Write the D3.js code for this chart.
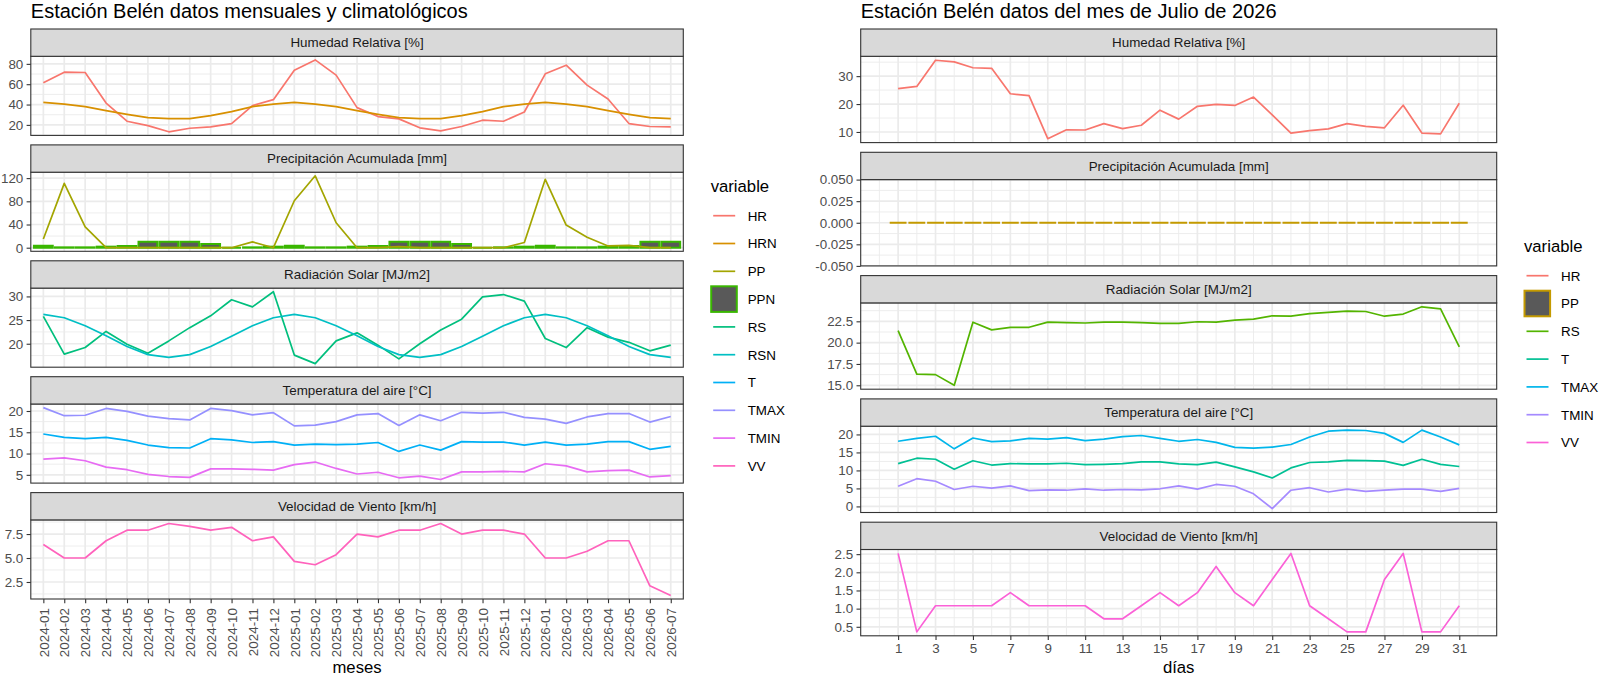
<!DOCTYPE html>
<html>
<head>
<meta charset="utf-8">
<script src="https://cdn.jsdelivr.net/npm/d3@7"></script>
<style>
  body { margin: 0; background: #fff; }
  svg { display: block; font-family: "Liberation Sans", Arial, Helvetica, sans-serif; }
</style>
</head>
<body>
<svg id="chart" width="1600" height="676"></svg>
<script>
// ---- monthly data (left chart) ----
const meses = ['2024-01', '2024-02', '2024-03', '2024-04', '2024-05', '2024-06', '2024-07', '2024-08',
  '2024-09', '2024-10', '2024-11', '2024-12', '2025-01', '2025-02', '2025-03', '2025-04', '2025-05',
  '2025-06', '2025-07', '2025-08', '2025-09', '2025-10', '2025-11', '2025-12', '2026-01', '2026-02',
  '2026-03', '2026-04', '2026-05', '2026-06', '2026-07'];

const hrMes = [61.4, 71.8, 71.5, 41.5, 23.6, 19.3, 13.2, 16.7, 18.0, 21.3, 38.9, 44.8, 73.8, 83.9, 68.9, 37.0,
  28.2, 25.9, 17.1, 14.1, 18.4, 24.6, 23.6, 32.7, 70.2, 78.7, 59.1, 45.4, 21.3, 18.4, 18.0];
const hrnMes = [42.2, 40.5, 38.0, 34.0, 30.4, 27.2, 26.2, 26.2, 29.1, 33.0, 38.0, 40.5, 42.2, 40.5, 38.0, 34.0,
  30.4, 27.2, 26.2, 26.2, 29.1, 33.0, 38.0, 40.5, 42.2, 40.5, 38.0, 34.0, 30.4, 27.2, 26.2];
const ppMes = [15, 111, 36, 0, 0, 0, 0, 0, 0, 0, 10, 0, 81, 124, 43, 0, 0, 2, 0, 0, 0, 0, 0, 9, 118, 39, 18,
  3, 4, 0, 0];
const ppnMes = [3.5, 0.6, 0.6, 1.8, 2.9, 10.3, 10.3, 10.3, 6.3, 0, 0.6, 1.8, 3.5, 0.6, 0.6, 1.8, 2.9, 10.3,
  10.3, 10.3, 6.3, 0, 0.6, 1.8, 3.5, 0.6, 0.6, 1.8, 2.9, 10.3, 10.3];
const rsMes = [25.8, 17.8, 19.2, 22.6, 19.9, 18.0, 20.6, 23.4, 25.9, 29.3, 27.8, 31.0, 17.6, 15.8, 20.6, 22.3,
  19.7, 16.8, 20.0, 22.9, 25.2, 29.9, 30.4, 29.0, 21.1, 19.2, 23.4, 21.4, 20.3, 18.5, 19.7];
const rsnMes = [26.2, 25.5, 23.8, 21.7, 19.4, 17.7, 17.1, 17.7, 19.4, 21.6, 23.8, 25.5, 26.2, 25.5, 23.8, 21.7,
  19.4, 17.7, 17.1, 17.7, 19.4, 21.6, 23.8, 25.5, 26.2, 25.5, 23.8, 21.7, 19.4, 17.7, 17.1];
const tMes = [14.6, 13.8, 13.5, 13.8, 13.1, 12.0, 11.4, 11.3, 13.5, 13.2, 12.6, 12.8, 12.0, 12.2, 12.1, 12.2,
  12.6, 10.5, 12.0, 10.8, 12.8, 12.7, 12.7, 12.0, 12.7, 12.0, 12.2, 12.8, 12.8, 11.0, 11.7];
const tmaxMes = [20.8, 18.9, 19.0, 20.6, 19.9, 18.8, 18.2, 17.9, 20.6, 20.1, 19.1, 19.6, 16.5, 16.7, 17.5, 19.1,
  19.4, 16.6, 19.1, 17.7, 19.7, 19.5, 19.7, 18.5, 18.1, 17.1, 18.6, 19.4, 19.4, 17.4, 18.7];
const tminMes = [8.7, 9.0, 8.3, 6.8, 6.2, 5.1, 4.6, 4.4, 6.4, 6.4, 6.3, 6.1, 7.4, 8.0, 6.5, 5.2, 5.6, 4.3, 4.7,
  3.9, 5.7, 5.7, 5.8, 5.7, 7.6, 7.1, 5.7, 6.0, 6.1, 4.5, 4.8];
const vvMes = [6.4, 5.0, 5.0, 6.8, 7.9, 7.9, 8.6, 8.3, 7.9, 8.2, 6.8, 7.2, 4.65, 4.3, 5.35, 7.5, 7.2, 7.9, 7.9,
  8.6, 7.5, 7.9, 7.9, 7.5, 5.0, 5.0, 5.7, 6.8, 6.8, 2.1, 1.1];

// ---- daily data (right chart) ----
const dias = [1, 2, 3, 4, 5, 6, 7, 8, 9, 10, 11, 12, 13, 14, 15, 16, 17, 18, 19, 20, 21, 22, 23, 24, 25, 26,
  27, 28, 29, 30, 31];
const hrDia = [25.5, 26.3, 35.7, 35.1, 33.0, 32.8, 23.7, 23.0, 7.6, 10.8, 10.7, 13.0, 11.2, 12.4, 17.8, 14.6,
  19.2, 19.9, 19.5, 22.5, 16.1, 9.6, 10.5, 11.1, 13.0, 12.0, 11.5, 19.6, 9.6, 9.3, 20.3];
const ppDia = [0, 0, 0, 0, 0, 0, 0, 0, 0, 0, 0, 0, 0, 0, 0, 0, 0, 0, 0, 0, 0, 0, 0, 0, 0, 0, 0, 0, 0, 0, 0];
const rsDia = [21.4, 16.3, 16.25, 15.0, 22.4, 21.5, 21.8, 21.8, 22.4, 22.35, 22.3, 22.4, 22.4, 22.35, 22.25,
  22.25, 22.45, 22.4, 22.65, 22.75, 23.15, 23.1, 23.4, 23.55, 23.7, 23.65, 23.1, 23.35, 24.2, 23.95, 19.5];
const tDia = [11.9, 13.4, 13.1, 10.3, 12.7, 11.5, 11.9, 11.8, 11.8, 12.0, 11.6, 11.7, 11.9, 12.4, 12.4, 11.8,
  11.6, 12.3, 11.0, 9.6, 7.9, 10.7, 12.2, 12.4, 12.8, 12.7, 12.6, 11.4, 13.1, 11.7, 11.1];
const tmaxDia = [18.1, 18.9, 19.5, 16.0, 19.0, 18.0, 18.2, 18.9, 18.7, 19.1, 18.3, 18.7, 19.4, 19.7, 18.9, 18.1,
  18.6, 17.8, 16.4, 16.2, 16.5, 17.2, 19.3, 20.9, 21.2, 21.1, 20.3, 17.8, 21.2, 19.3, 17.1];
const tminDia = [5.6, 7.7, 7.0, 4.7, 5.6, 5.1, 5.7, 4.4, 4.6, 4.5, 4.9, 4.5, 4.7, 4.6, 4.9, 5.7, 4.8, 6.1, 5.6,
  3.5, -0.6, 4.5, 5.2, 4.0, 4.8, 4.2, 4.5, 4.8, 4.8, 4.2, 5.0];
const vvDia = [2.52, 0.36, 1.08, 1.08, 1.08, 1.08, 1.44, 1.08, 1.08, 1.08, 1.08, 0.72, 0.72, 1.08, 1.44, 1.08,
  1.44, 2.16, 1.44, 1.08, 1.8, 2.52, 1.08, 0.72, 0.36, 0.36, 1.8, 2.52, 0.36, 0.36, 1.08];

// ---- tick values ----
const ticksHRMes = [20, 40, 60, 80];
const ticksPPMes = [0, 40, 80, 120];
const ticksRSMes = [20, 25, 30];
const ticksTMes = [5, 10, 15, 20];
const ticksVVMes = [2.5, 5.0, 7.5];
const ticksHRDia = [10, 20, 30];
const ticksPPDia = [-0.05, -0.025, 0, 0.025, 0.05];
const ticksRSDia = [15, 17.5, 20, 22.5];
const ticksTDia = [0, 5, 10, 15, 20];
const ticksVVDia = [0.5, 1.0, 1.5, 2.0, 2.5];
const ticksDias = [1, 3, 5, 7, 9, 11, 13, 15, 17, 19, 21, 23, 25, 27, 29, 31];

const svg = d3.select('#chart');
const TICK = 4.2, PAD = 3.3;

const fmt = (spec) => (v) => d3.format(spec)(v).replace('\u2212', '-');

function styleAxis(g) {
  g.select('.domain').remove();
  g.attr('font-family', null).attr('font-size', null);
  g.selectAll('line').attr('stroke', '#333333').attr('stroke-width', 1.1);
  g.selectAll('text').attr('fill', '#4D4D4D').attr('font-size', 13.4);
}

function drawChart(c) {
  const root = svg.append('g');
  const x = c.x;
  const xPos = (i) => x(c.cats[i]);
  const barW = c.barW;

  root.append('text')
    .attr('x', c.left).attr('y', 18)
    .attr('font-size', 20).attr('fill', '#000')
    .text(c.title);

  c.facets.forEach((f, k) => {
    const sTop = c.top + k * (c.stripH + c.panelH + c.gap);
    const pTop = sTop + c.stripH;
    const pBot = pTop + c.panelH;

    let vals = f.series.flatMap((s) => s.values);
    if (f.series.some((s) => s.bar)) vals = vals.concat([0]);
    const lo = d3.min(vals), hi = d3.max(vals);
    const dom = lo === hi ? [lo - 0.05, hi + 0.05] : [lo - (hi - lo) * 0.05, hi + (hi - lo) * 0.05];
    const y = d3.scaleLinear().domain(dom).range([pBot, pTop]);

    const p = root.append('g');
    p.append('rect').attr('x', c.left).attr('y', pTop).attr('width', c.right - c.left)
      .attr('height', c.panelH).attr('fill', '#fff');

    // minor y grid
    const st = f.ticks[1] - f.ticks[0];
    const yMinor = [f.ticks[0] - st / 2].concat(f.ticks.map((t) => t + st / 2))
      .filter((v) => v >= dom[0] && v <= dom[1]);
    p.selectAll('.ymin').data(yMinor).enter().append('line')
      .attr('x1', c.left).attr('x2', c.right).attr('y1', y).attr('y2', y)
      .attr('stroke', '#EBEBEB').attr('stroke-width', 0.9);
    // minor x grid
    p.selectAll('.xmin').data(c.xMinor).enter().append('line')
      .attr('x1', (d) => x(d)).attr('x2', (d) => x(d)).attr('y1', pTop).attr('y2', pBot)
      .attr('stroke', '#EBEBEB').attr('stroke-width', 0.9);
    // major grid
    p.selectAll('.ymaj').data(f.ticks).enter().append('line')
      .attr('x1', c.left).attr('x2', c.right).attr('y1', y).attr('y2', y)
      .attr('stroke', '#EBEBEB').attr('stroke-width', 1.7);
    p.selectAll('.xmaj').data(c.xTicks).enter().append('line')
      .attr('x1', (d) => x(d)).attr('x2', (d) => x(d)).attr('y1', pTop).attr('y2', pBot)
      .attr('stroke', '#EBEBEB').attr('stroke-width', 1.7);

    // bars (drawn as paths so zero heights still show their outline)
    f.series.filter((s) => s.bar).forEach((s) => {
      p.append('g').selectAll('path').data(s.values).enter().append('path')
        .attr('d', (d, i) => {
          const x0 = xPos(i) - barW / 2, x1 = xPos(i) + barW / 2;
          return `M${x0},${y(0)}H${x1}V${y(d)}H${x0}Z`;
        })
        .attr('fill', '#595959').attr('stroke', s.color).attr('stroke-width', 2);
    });

    // lines
    f.series.filter((s) => !s.bar).forEach((s) => {
      const line = d3.line().x((d, i) => xPos(i)).y((d) => y(d));
      p.append('path').datum(s.values).attr('d', line)
        .attr('fill', 'none').attr('stroke', s.color).attr('stroke-width', 1.7)
        .attr('stroke-linejoin', 'round');
    });

    // panel border
    p.append('rect').attr('x', c.left).attr('y', pTop).attr('width', c.right - c.left)
      .attr('height', c.panelH).attr('fill', 'none').attr('stroke', '#333333').attr('stroke-width', 1.1);

    // strip
    p.append('rect').attr('x', c.left).attr('y', sTop).attr('width', c.right - c.left)
      .attr('height', c.stripH).attr('fill', '#D9D9D9').attr('stroke', '#333333').attr('stroke-width', 1.1);
    p.append('text').attr('x', (c.left + c.right) / 2).attr('y', sTop + c.stripH / 2 + 4.8)
      .attr('text-anchor', 'middle').attr('font-size', 13.4).attr('fill', '#1A1A1A')
      .text(f.title);

    // y axis
    const ya = root.append('g').attr('transform', `translate(${c.left},0)`)
      .call(d3.axisLeft(y).tickValues(f.ticks).tickSize(TICK).tickPadding(PAD).tickFormat(fmt(f.format)));
    styleAxis(ya);

    // x axis on last panel
    if (k === c.facets.length - 1) {
      const xa = root.append('g').attr('transform', `translate(0,${pBot})`)
        .call(d3.axisBottom(x).tickValues(c.xTicks).tickSize(TICK).tickPadding(PAD));
      styleAxis(xa);
      if (c.rotate) {
        xa.selectAll('text')
          .attr('transform', 'rotate(-90)')
          .attr('x', -(TICK + PAD + 1.5)).attr('y', 0).attr('dy', '0.35em')
          .attr('text-anchor', 'end');
      }
      root.append('text').attr('x', (c.left + c.right) / 2).attr('y', 673)
        .attr('text-anchor', 'middle').attr('font-size', 16.7).attr('fill', '#000')
        .text(c.xTitle);
    }
  });

  // legend
  const L = c.legend;
  const lg = root.append('g');
  lg.append('text').attr('x', L.x).attr('y', L.titleY).attr('font-size', 16.7).attr('fill', '#000')
    .text('variable');
  L.items.forEach((it, i) => {
    const cy = L.firstY + i * 27.8;
    if (it.bar) {
      lg.append('rect').attr('x', L.x + 0.5).attr('y', cy - 12.8).attr('width', 25.6).attr('height', 25.6)
        .attr('fill', '#595959').attr('stroke', it.color).attr('stroke-width', 2);
    } else {
      lg.append('line').attr('x1', L.x + 2.5).attr('x2', L.x + 24.5).attr('y1', cy).attr('y2', cy)
        .attr('stroke', it.color).attr('stroke-width', 1.7);
    }
    lg.append('text').attr('x', L.x + 37).attr('y', cy + 4.8).attr('font-size', 13.4).attr('fill', '#000')
      .text(it.name);
  });
}

// ---- left chart: monthly ----
const xMes = d3.scalePoint().domain(meses).range([30.8, 683.3]).padding(0.6);
drawChart({
  title: 'Estación Belén datos mensuales y climatológicos',
  left: 30.8, right: 683.3, top: 29, stripH: 27.3, panelH: 79.1, gap: 9.5,
  x: xMes, cats: meses, barW: xMes.step() * 0.9,
  xTicks: meses, xMinor: [], rotate: true, xTitle: 'meses',
  facets: [
    { title: 'Humedad Relativa [%]', ticks: ticksHRMes, format: 'd', series: [
      { name: 'HR', values: hrMes, color: '#F8766D' },
      { name: 'HRN', values: hrnMes, color: '#D89000' }] },
    { title: 'Precipitación Acumulada [mm]', ticks: ticksPPMes, format: 'd', series: [
      { name: 'PPN', values: ppnMes, color: '#39B600', bar: true },
      { name: 'PP', values: ppMes, color: '#A3A500' }] },
    { title: 'Radiación Solar [MJ/m2]', ticks: ticksRSMes, format: 'd', series: [
      { name: 'RS', values: rsMes, color: '#00BF7D' },
      { name: 'RSN', values: rsnMes, color: '#00BFC4' }] },
    { title: 'Temperatura del aire [°C]', ticks: ticksTMes, format: 'd', series: [
      { name: 'T', values: tMes, color: '#00B0F6' },
      { name: 'TMAX', values: tmaxMes, color: '#9590FF' },
      { name: 'TMIN', values: tminMes, color: '#E76BF3' }] },
    { title: 'Velocidad de Viento [km/h]', ticks: ticksVVMes, format: '.1f', series: [
      { name: 'VV', values: vvMes, color: '#FF62BC' }] }
  ],
  legend: { x: 710.7, titleY: 191.5, firstY: 215.7, items: [
    { name: 'HR', color: '#F8766D' }, { name: 'HRN', color: '#D89000' }, { name: 'PP', color: '#A3A500' },
    { name: 'PPN', color: '#39B600', bar: true }, { name: 'RS', color: '#00BF7D' },
    { name: 'RSN', color: '#00BFC4' }, { name: 'T', color: '#00B0F6' }, { name: 'TMAX', color: '#9590FF' },
    { name: 'TMIN', color: '#E76BF3' }, { name: 'VV', color: '#FF62BC' }] }
});

// ---- right chart: daily ----
const xDia = d3.scaleLinear().domain([-1, 33]).range([860.7, 1496.7]);
drawChart({
  title: 'Estación Belén datos del mes de Julio de 2026',
  left: 860.7, right: 1496.7, top: 29, stripH: 27.3, panelH: 86.3, gap: 9.7,
  x: xDia, cats: dias, barW: (xDia(1) - xDia(0)) * 0.9,
  xTicks: ticksDias, xMinor: [0, 2, 4, 6, 8, 10, 12, 14, 16, 18, 20, 22, 24, 26, 28, 30, 32],
  rotate: false, xTitle: 'días',
  facets: [
    { title: 'Humedad Relativa [%]', ticks: ticksHRDia, format: 'd', series: [
      { name: 'HR', values: hrDia, color: '#F8766D' }] },
    { title: 'Precipitación Acumulada [mm]', ticks: ticksPPDia, format: '.3f', series: [
      { name: 'PP', values: ppDia, color: '#C49A00', bar: true }] },
    { title: 'Radiación Solar [MJ/m2]', ticks: ticksRSDia, format: '.1f', series: [
      { name: 'RS', values: rsDia, color: '#53B400' }] },
    { title: 'Temperatura del aire [°C]', ticks: ticksTDia, format: 'd', series: [
      { name: 'T', values: tDia, color: '#00C094' },
      { name: 'TMAX', values: tmaxDia, color: '#00B6EB' },
      { name: 'TMIN', values: tminDia, color: '#A58AFF' }] },
    { title: 'Velocidad de Viento [km/h]', ticks: ticksVVDia, format: '.1f', series: [
      { name: 'VV', values: vvDia, color: '#FB61D7' }] }
  ],
  legend: { x: 1524, titleY: 251.5, firstY: 275.7, items: [
    { name: 'HR', color: '#F8766D' }, { name: 'PP', color: '#C49A00', bar: true },
    { name: 'RS', color: '#53B400' }, { name: 'T', color: '#00C094' }, { name: 'TMAX', color: '#00B6EB' },
    { name: 'TMIN', color: '#A58AFF' }, { name: 'VV', color: '#FB61D7' }] }
});
</script>
</body>
</html>
